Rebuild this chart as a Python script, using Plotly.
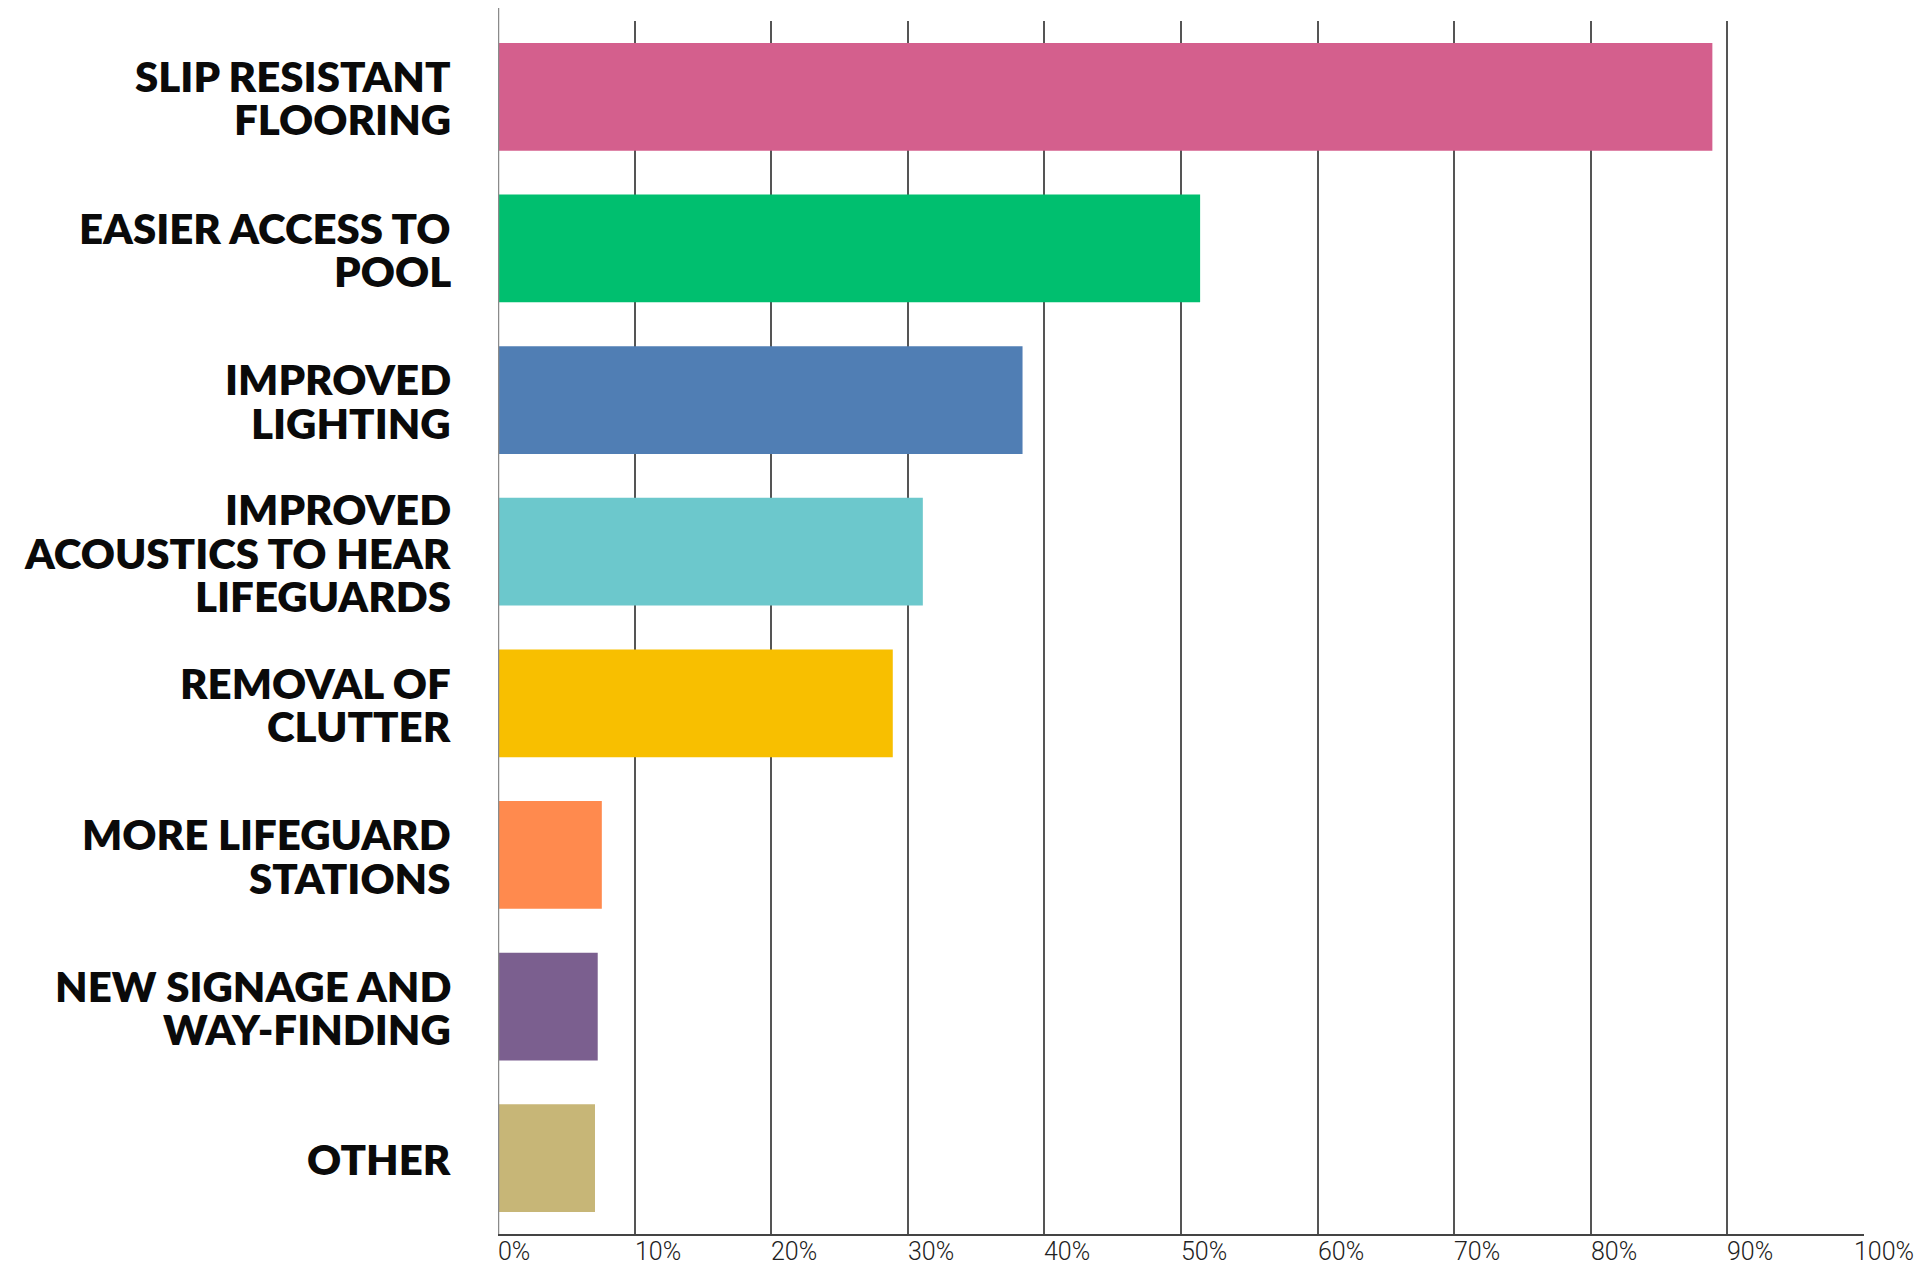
import plotly.graph_objects as go

categories = [
    "SLIP RESISTANT\nFLOORING",
    "EASIER ACCESS TO\nPOOL",
    "IMPROVED\nLIGHTING",
    "IMPROVED\nACOUSTICS TO HEAR\nLIFEGUARDS",
    "REMOVAL OF\nCLUTTER",
    "MORE LIFEGUARD\nSTATIONS",
    "NEW SIGNAGE AND\nWAY-FINDING",
    "OTHER",
]
values = [88.9, 51.4, 38.4, 31.1, 28.9, 7.6, 7.3, 7.1]
bar_colors = ["#D45F8D", "#00BF6F", "#507EB4", "#6CC8CC",
              "#F8BF00", "#FF8A4E", "#7B5F8F", "#C7B677"]
tick_vals = [0, 10, 20, 30, 40, 50, 60, 70, 80, 90, 100]
tick_labels = ["0%", "10%", "20%", "30%", "40%", "50%", "60%", "70%", "80%", "90%", "100%"]

cat_ids = [c.replace("\n", " ") for c in categories]

fig = go.Figure(go.Bar(
    x=values,
    y=cat_ids,
    orientation="h",
    marker=dict(color=bar_colors, line=dict(width=0)),
    hoverinfo="skip",
))

annotations = []
# Category labels, one annotation per line for tight line spacing
pitch = 43.3
for cid, label in zip(cat_ids, categories):
    lines = label.split("\n")
    n = len(lines)
    for i, ln in enumerate(lines):
        annotations.append(dict(
            x=0, xref="x", y=cid, yref="y",
            text=ln, showarrow=False,
            xanchor="right", yanchor="middle",
            xshift=-45, yshift=((n - 1) / 2 - i) * pitch - 1,
            font=dict(family="Lato", size=42, color="#0a0a0a", weight=800),
        ))

# X tick labels, left-aligned at their grid line (last one pulled in to fit)
for j, (tv, tl) in enumerate(zip(tick_vals, tick_labels)):
    annotations.append(dict(
        x=tv, xref="x", y=0, yref="paper",
        text=tl, showarrow=False,
        xanchor="left", yanchor="top",
        xshift=(-12 if j == len(tick_vals) - 1 else -2), yshift=-1,
        font=dict(family="Roboto", size=25, color="#222222", weight=300),
    ))

fig.update_layout(
    width=1916, height=1259,
    margin=dict(l=490, r=60, t=13, b=33, autoexpand=False),
    plot_bgcolor="white", paper_bgcolor="white",
    bargap=0.29,
    showlegend=False,
    annotations=annotations,
    xaxis=dict(
        range=[0, 100],
        tickvals=tick_vals, showticklabels=False,
        showgrid=True, gridcolor="#555555", gridwidth=1.5,
        showline=True, linecolor="#444444", linewidth=1.5,
        zeroline=False, ticks="", fixedrange=True,
    ),
    yaxis=dict(
        autorange="reversed",
        showticklabels=False, showgrid=False, zeroline=False,
        showline=False, ticks="",
    ),
    shapes=[dict(
        type="line", xref="x", yref="paper",
        x0=0, x1=0, y0=0, y1=1.0107,
        line=dict(color="#8a8a8a", width=2.5), layer="above",
    )],
)

fig.write_html("out.html")
